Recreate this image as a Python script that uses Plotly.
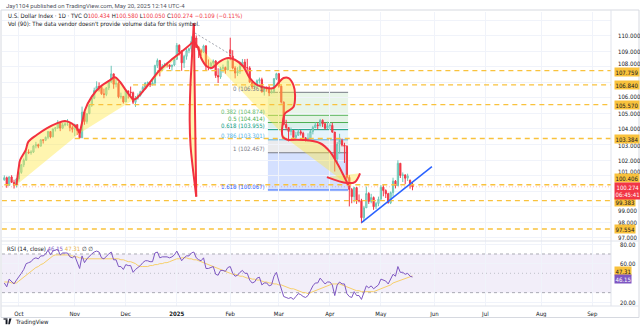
import pandas as pd
import plotly.graph_objects as go

# ---------------- daily bars, TVC:DXY ----------------
HOLIDAYS = ["2024-12-25", "2025-01-01", "2025-04-18"]
DATES = [d.strftime("%Y-%m-%d") for d in pd.bdate_range("2024-09-23", "2025-05-20")
         if d.strftime("%Y-%m-%d") not in HOLIDAYS]

OPEN = [
    100.72, 100.86, 100.37, 100.91, 100.56, 100.38,
    100.78, 101.20, 101.69, 101.99, 102.52, 102.47, 102.51, 102.91, 102.99, 102.89, 103.30, 103.27,
    103.46, 103.83, 103.49, 104.00, 104.07, 104.41, 104.05, 104.26, 104.32, 104.32, 104.08,
    103.98, 104.28, 103.89, 103.43, 105.08, 104.48, 104.99, 105.52, 105.98, 106.48, 106.74, 106.69,
    106.27, 106.22, 106.65, 107.03, 107.55, 106.88, 106.94, 106.07, 106.10,
    105.74, 106.45, 106.38, 106.34, 105.72, 105.99, 106.16, 106.41, 106.68, 106.96, 106.99, 106.85,
    106.96, 108.08, 108.41, 107.82, 108.04, 108.14, 108.13, 108.01, 108.12,
    108.49, 109.39, 108.95, 108.26, 108.68, 109.05, 109.17, 109.65, 109.86, 109.25, 109.05, 108.95,
    109.35, 108.05, 108.03, 108.24, 108.38, 107.44, 107.35, 107.89, 107.96, 107.80,
    109.10, 108.69, 107.92, 107.60, 107.70, 108.04, 108.31, 107.96, 107.93, 107.02, 106.71, 106.80,
    107.11, 107.18, 106.39, 106.62, 106.58, 106.33, 106.41, 107.24,
    107.56, 106.76, 105.73, 104.29, 104.09, 103.84, 103.90, 103.45, 103.59, 103.82, 103.72, 103.43,
    103.26, 103.40, 103.84, 104.09, 104.26, 104.22, 104.56, 104.33, 104.04,
    104.21, 104.23, 103.80, 102.07, 103.02, 103.26, 102.96, 102.89, 100.88, 100.10, 99.64, 100.22,
    99.38, 99.38, 98.28, 98.92, 99.84, 99.33, 99.58, 98.99, 99.20,
    99.47, 100.25, 100.03, 99.83, 99.24, 99.90, 100.64, 100.34, 101.79, 101.00, 101.04, 100.83,
    100.70, 100.434,
]
HIGH = [
    101.01, 100.93, 100.95, 101.02, 100.73, 100.84,
    101.31, 101.74, 102.10, 102.69, 102.69, 102.63, 102.95, 103.17, 103.05, 103.35, 103.33, 103.51,
    103.87, 103.87, 104.03, 104.11, 104.57, 104.45, 104.38, 104.52, 104.63, 104.46, 104.22,
    104.34, 104.28, 103.99, 105.44, 105.15, 105.01, 105.61, 106.12, 106.66, 107.07, 107.00, 106.77,
    106.60, 106.70, 107.10, 108.07, 107.55, 107.31, 107.03, 106.34, 106.12,
    106.57, 106.48, 106.73, 106.41, 106.12, 106.29, 106.47, 106.77, 107.01, 107.06, 107.02, 107.15,
    108.14, 108.54, 108.45, 108.18, 108.26, 108.27, 108.16, 108.13, 108.58,
    109.54, 109.45, 109.08, 108.78, 109.16, 109.24, 109.97, 110.18, 110.02, 109.35, 109.17, 109.43,
    109.40, 108.48, 108.33, 108.48, 108.43, 107.91, 108.00, 108.15, 108.02, 108.54,
    109.88, 109.07, 108.04, 107.98, 108.34, 108.51, 108.50, 108.52, 108.04, 107.11, 106.97, 107.19,
    107.31, 107.30, 106.67, 106.74, 106.80, 106.57, 107.28, 107.62,
    107.61, 106.80, 105.77, 104.59, 104.11, 104.09, 103.91, 103.82, 103.96, 103.94, 103.82, 103.48,
    103.72, 103.95, 104.20, 104.42, 104.41, 104.65, 104.62, 104.41, 104.47,
    104.37, 104.40, 103.81, 103.17, 103.69, 103.38, 103.11, 102.94, 101.02, 100.20, 100.27, 100.26,
    99.78, 99.50, 99.05, 100.29, 99.93, 99.82, 99.65, 99.30, 99.64,
    100.38, 100.38, 100.11, 99.89, 99.97, 100.86, 100.71, 101.98, 101.80, 101.20, 101.07, 101.12,
    100.73, 100.580,
]
LOW = [
    100.67, 100.21, 100.35, 100.53, 100.16, 100.23,
    100.61, 101.11, 101.54, 101.94, 102.38, 102.34, 102.45, 102.75, 102.76, 102.89, 103.06, 103.22,
    103.34, 103.40, 103.47, 103.84, 104.00, 103.86, 103.99, 104.17, 104.20, 103.85, 103.77,
    103.54, 103.61, 103.37, 103.43, 104.27, 104.34, 104.95, 105.42, 105.92, 106.42, 106.41, 106.20,
    105.98, 106.11, 106.50, 106.95, 106.59, 106.68, 105.98, 105.95, 105.64,
    105.74, 105.96, 106.16, 105.60, 105.42, 105.88, 106.08, 106.36, 106.56, 106.73, 106.70, 106.81,
    106.82, 107.93, 107.39, 107.73, 107.96, 107.96, 107.86, 107.76, 108.04,
    108.44, 108.74, 107.75, 107.93, 108.46, 108.88, 108.93, 109.53, 109.21, 108.57, 108.70, 108.89,
    107.78, 107.78, 107.83, 107.93, 107.29, 106.96, 107.23, 107.62, 107.56, 107.79,
    108.43, 107.84, 107.26, 107.41, 107.55, 108.02, 107.90, 107.69, 106.97, 106.56, 106.56, 106.64,
    106.92, 106.35, 106.15, 106.40, 106.12, 106.29, 106.30, 107.15,
    106.66, 105.64, 104.23, 103.92, 103.20, 103.59, 103.27, 103.28, 103.57, 103.58, 103.28, 103.19,
    103.19, 103.38, 103.65, 104.05, 103.99, 104.16, 104.13, 103.95, 103.99,
    103.95, 103.75, 101.26, 101.75, 102.41, 102.87, 101.81, 100.78, 99.01, 99.21, 99.27, 99.17,
    99.27, 97.92, 98.04, 98.91, 99.17, 99.21, 98.79, 98.84, 99.03,
    99.46, 99.66, 99.55, 99.20, 99.16, 99.64, 100.17, 100.34, 100.84, 100.58, 100.45, 100.65,
    100.15, 100.050,
]
CLOSE = [
    100.86, 100.37, 100.91, 100.56, 100.38, 100.78,
    101.20, 101.69, 101.99, 102.52, 102.47, 102.51, 102.91, 102.99, 102.89, 103.30, 103.27, 103.46,
    103.83, 103.49, 104.00, 104.07, 104.41, 104.05, 104.26, 104.32, 104.32, 104.08, 103.98,
    104.28, 103.89, 103.43, 105.08, 104.48, 104.99, 105.52, 105.98, 106.48, 106.74, 106.69, 106.27,
    106.22, 106.65, 107.03, 107.55, 106.88, 106.94, 106.07, 106.10, 105.74,
    106.45, 106.38, 106.34, 105.72, 105.99, 106.16, 106.41, 106.68, 106.96, 106.99, 106.85, 106.96,
    108.08, 108.41, 107.82, 108.04, 108.14, 108.13, 108.01, 108.12, 108.49,
    109.39, 108.95, 108.26, 108.68, 109.05, 109.17, 109.65, 109.86, 109.25, 109.05, 108.95, 109.35,
    108.05, 108.03, 108.24, 108.38, 107.44, 107.35, 107.89, 107.96, 107.80, 108.37,
    108.69, 107.92, 107.60, 107.70, 108.04, 108.31, 107.96, 107.93, 107.02, 106.71, 106.80, 107.11,
    107.18, 106.39, 106.62, 106.58, 106.33, 106.41, 107.24, 107.56,
    106.76, 105.73, 104.29, 104.09, 103.84, 103.90, 103.45, 103.59, 103.82, 103.72, 103.43, 103.26,
    103.40, 103.84, 104.09, 104.26, 104.22, 104.56, 104.33, 104.04, 104.21,
    104.23, 103.80, 102.07, 103.02, 103.26, 102.96, 102.89, 100.88, 100.10, 99.64, 100.22, 99.38,
    99.38, 98.28, 98.92, 99.84, 99.33, 99.58, 98.99, 99.20, 99.47,
    100.25, 100.03, 99.83, 99.24, 99.90, 100.64, 100.34, 101.79, 101.00, 101.04, 100.83, 100.98,
    100.383, 100.274,
]

# RSI (14, close) and its moving average
RSI = [
    40, 36, 44, 41, 39, 43,
    46, 50, 54, 60, 61, 62, 65, 66, 65, 68, 68, 70, 74, 69, 73, 74, 75, 69, 71, 71, 71, 67, 66,
    68, 62, 55, 68, 61, 65, 68, 70, 72, 73, 72, 66, 65, 68, 70, 72, 64, 64, 57, 57, 54,
    59, 58, 58, 51, 54, 56, 58, 61, 63, 63, 62, 62, 71, 72, 66, 67, 67, 67, 66, 67, 69,
    73, 68, 63, 66, 68, 68, 71, 72, 66, 64, 63, 66, 55, 55, 56, 57, 49, 48, 53, 53, 52, 56,
    57, 50, 47, 48, 51, 53, 50, 50, 43, 40, 41, 45, 46, 38, 40, 40, 37, 38, 47, 51,
    42, 33, 26, 25, 24, 25, 23, 26, 29, 28, 26, 25, 27, 32, 37, 40, 40, 45, 42, 39, 41,
    41, 38, 27, 38, 41, 39, 39, 29, 26, 25, 31, 27, 27, 23, 31, 37, 35, 37, 34, 36, 38,
    44, 43, 42, 39, 44, 49, 47, 57, 51, 51, 49, 50, 47, 46.15,
]
RSI_MA = [
    41, 41, 41, 40, 40, 40,
    42, 44, 46, 48, 50, 52, 54, 56, 57, 59, 60, 62, 64, 66, 68, 69, 69, 69, 69, 69, 69, 68, 68,
    67, 67, 66, 66, 65, 65, 65, 65, 65, 65, 65, 65, 65, 65, 65, 65, 65, 65, 65, 64, 64,
    63, 62, 62, 61, 60, 58, 57, 57, 57, 57, 58, 58, 59, 59, 60, 60, 61, 61, 62, 63, 64,
    65, 65, 66, 66, 66, 65, 65, 64, 64, 63, 62, 61, 60, 59, 58, 57, 56, 55, 54, 53, 52, 51,
    50, 49, 49, 48, 47, 47, 46, 45, 45, 44, 44, 43, 43, 42, 41, 41, 40, 40, 39, 39,
    38, 38, 37, 36, 35, 34, 34, 33, 32, 31, 30, 30, 29, 30, 31, 32, 33, 34, 35, 36, 37,
    38, 39, 39, 39, 39, 38, 37, 36, 35, 34, 33, 32, 32, 31, 31, 31, 31, 31, 31, 32, 33,
    34, 35, 36, 37, 38, 40, 41, 42, 43, 44, 45, 46, 46.5, 47.31,
]
assert len(DATES) == len(OPEN) == len(HIGH) == len(LOW) == len(CLOSE) == len(RSI) == len(RSI_MA)

# ---------------- drawings ----------------
LEVEL_PRICES = [107.759, 106.840, 105.570, 103.384, 100.406, 99.383, 97.554]
LEVEL_STARTS = ["2024-12-19", "2024-12-05", "2024-11-11", "2024-11-01",
                "2024-09-23", "2024-09-20", "2024-09-20"]
LEVEL_LABEL_SHIFT = [-1, 0, 0, 0, 7, -1.5, 0]

FIB_LEFT, FIB_RIGHT = "2025-02-24 12:00", "2025-04-10 12:00"
FIB_RATIOS = ["0", "0.382", "0.5", "0.618", "0.786", "1", "1.618"]
FIB_PRICES = [106.361, 104.874, 104.414, 103.955, 103.301, 102.467, 100.067]
FIB_COLORS = ["#787b86", "#66bb6a", "#4caf50", "#089981", "#4fb3e8", "#787b86", "#2962ff"]

TREND_BLUE = [("2025-04-21", 97.96), ("2025-05-30", 101.57)]
TREND_GRAY = [("2025-01-13 12:00", 110.18), ("2025-02-03 14:00", 108.75)]

ARC_OCT = [("2024-09-30", 100.39), ("2024-10-01", 101.57), ("2024-10-01 12:00", 102.00),
           ("2024-10-03 19:00", 102.64), ("2024-10-04 22:00", 103.18), ("2024-10-10 07:00", 103.61),
           ("2024-10-16 10:00", 104.04), ("2024-10-22 14:00", 104.36), ("2024-10-28", 104.51),
           ("2024-10-30 17:00", 104.36), ("2024-11-04", 104.04), ("2024-11-05", 103.72)]
ARC_NOV = [("2024-11-05", 103.72), ("2024-11-06 06:00", 104.58), ("2024-11-07 05:00", 105.22),
           ("2024-11-12", 106.08), ("2024-11-15 12:00", 106.72), ("2024-11-21 12:00", 107.15),
           ("2024-11-25 12:00", 107.33), ("2024-11-27 14:00", 107.04), ("2024-12-02 10:00", 106.40),
           ("2024-12-05", 105.87)]
ARC_DEC = [("2024-12-05", 105.87), ("2024-12-06 12:00", 105.98), ("2024-12-12 14:00", 106.72),
           ("2024-12-20", 107.80), ("2024-12-30 12:00", 108.55), ("2025-01-07 17:00", 109.20),
           ("2025-01-13", 109.66)]
SPIKE_CURVE = [("2025-01-13", 110.80), ("2025-01-10 12:00", 109.40), ("2025-01-10 02:00", 108.20),
               ("2025-01-09 14:00", 106.72), ("2025-01-09 07:00", 104.58), ("2025-01-09 16:00", 102.90),
               ("2025-01-10 12:00", 101.60), ("2025-01-13 10:00", 100.40), ("2025-01-14", 99.64)]
SPIKE_CHORD = [("2025-01-13", 110.80), ("2025-01-13 12:00", 105.0), ("2025-01-14", 99.64)]
ARC_TOP = [("2025-01-13", 109.66), ("2025-01-14 19:00", 109.22), ("2025-01-16", 108.57),
           ("2025-01-20 07:00", 108.04), ("2025-01-22 07:00", 107.93), ("2025-01-27 19:00", 108.36),
           ("2025-01-31 05:00", 108.57), ("2025-02-04 22:00", 108.46), ("2025-02-10 07:00", 108.04),
           ("2025-02-13 02:00", 107.28), ("2025-02-17 22:00", 106.85), ("2025-02-24", 106.64),
           ("2025-02-26 19:00", 106.64), ("2025-02-28 19:00", 106.96), ("2025-03-04 22:00", 107.28),
           ("2025-03-07", 107.28), ("2025-03-11", 106.83), ("2025-03-11 16:00", 106.19),
           ("2025-03-11", 105.41), ("2025-03-05 14:00", 105.01), ("2025-03-04 14:00", 104.36),
           ("2025-03-04 14:00", 103.50), ("2025-03-06 22:00", 103.29)]
ARC_MAR = [("2025-03-06 22:00", 103.29), ("2025-03-17", 103.29), ("2025-03-26", 103.08),
           ("2025-04-01", 102.54), ("2025-04-04 10:00", 101.68), ("2025-04-09 05:00", 100.82),
           ("2025-04-10 14:00", 100.39)]
ARC_APR = [("2025-03-28 19:00", 100.90), ("2025-04-10", 100.52), ("2025-04-15 07:00", 100.58),
           ("2025-04-17 10:00", 101.14)]

# ---------------- axes ----------------
MONTH_TICKS = ["2024-10-01", "2024-11-01", "2024-12-02", "2025-01-02", "2025-02-03", "2025-03-03",
               "2025-04-01", "2025-05-01", "2025-06-02", "2025-07-01", "2025-08-01", "2025-09-01"]
MONTH_LABELS = ["Oct", "Nov", "Dec", "<b>2025</b>", "Feb", "Mar", "Apr", "May", "Jun", "Jul", "Aug", "Sep"]
PRICE_GRID = list(range(97, 112))
PRICE_TICKS = [97, 98, 99, 101, 102, 103, 104, 105, 106, 108, 109, 110]
PRICE_TICK_SHIFT = {108: 3, 106: 1, 103: -1.5, 101: 4.5, 99: -3.5}
RSI_TICKS = [80, 60, 20]

X_START, X_END = "2024-09-20 01:10", "2025-09-10 17:00"
PRICE_RANGE = [96.781, 111.536]
RSI_RANGE = [16.19, 83.41]

W, H = 640, 328
ML, MR, MT, MB = 2, 29, 12, 22
PW, PH = W - ML - MR, H - MT - MB


def px(x):
    return (x - ML) / PW


def py(y):
    return (H - MB - y) / PH


Y_SPLIT = py(241)

UP_LINE, UP_FILL = "#6cc6b6", "#bfe7df"
DOWN = "#f23645"
RED_PEN = "#f2313f"
YELLOW_FILL = "rgba(255, 232, 64, 0.42)"
LEVEL_YELLOW = "#f9c23c"
GRID = "#f0f3fa"
TEXT = "#131722"
FONT = "Roboto, 'Noto Sans', sans-serif"
NARROW = "'Liberation Sans Narrow', 'Arial Narrow', 'DejaVu Sans Condensed', Roboto, sans-serif"
SMALL = 6
BREAKS = [dict(bounds=["sat", "mon"]), dict(values=HOLIDAYS)]

fig = go.Figure()

# Fibonacci retracement zones
for i in range(1, len(FIB_PRICES)):
    c = FIB_COLORS[i]
    r, g, b = int(c[1:3], 16), int(c[3:5], 16), int(c[5:7], 16)
    fig.add_shape(type="rect", xref="x", yref="y", x0=FIB_LEFT, x1=FIB_RIGHT,
                  y0=FIB_PRICES[i - 1], y1=FIB_PRICES[i], line_width=0, layer="below",
                  fillcolor=f"rgba({r},{g},{b},{0.2 if i == 6 else 0.15})")
for p, c in zip(FIB_PRICES, FIB_COLORS):
    fig.add_shape(type="line", xref="x", yref="y", x0=FIB_LEFT, x1=FIB_RIGHT, y0=p, y1=p,
                  line=dict(color=c, width=1), layer="below")
for lab, p, c in zip(FIB_RATIOS, FIB_PRICES, FIB_COLORS):
    fig.add_annotation(x=FIB_LEFT, y=p, xref="x", yref="y", text=f"{lab} ({p:.3f})",
                       showarrow=False, xanchor="right", yanchor="bottom", xshift=-1, yshift=-1.5,
                       font=dict(size=SMALL, color=c, family=NARROW))

# RSI background band and guides
fig.add_shape(type="rect", xref="paper", yref="y2", x0=0, x1=1, y0=30, y1=70,
              fillcolor="rgba(126,87,194,0.10)", line_width=0, layer="below")
for lv, dash, col in [(70, "3px,3px", "#9598a1"), (30, "3px,3px", "#9598a1"), (50, "1px,3px", "#b2b5be")]:
    fig.add_shape(type="line", xref="paper", yref="y2", x0=0, x1=1, y0=lv, y1=lv,
                  line=dict(color=col, width=0.8, dash=dash), layer="below")

# current price line
fig.add_shape(type="line", xref="paper", yref="y", x0=0, x1=1, y0=CLOSE[-1], y1=CLOSE[-1],
              line=dict(color="rgba(242,54,69,0.30)", width=1, dash="1px,2px"), layer="below")

# yellow arcs
for arc in [ARC_OCT, ARC_NOV, ARC_DEC, SPIKE_CURVE, ARC_TOP, ARC_MAR, ARC_APR]:
    fig.add_trace(go.Scatter(x=[a[0] for a in arc], y=[a[1] for a in arc], mode="lines",
                             fill="toself", fillcolor=YELLOW_FILL, line=dict(width=0, shape="spline"),
                             hoverinfo="skip", xaxis="x", yaxis="y"))

# horizontal levels
for p, s in zip(LEVEL_PRICES, LEVEL_STARTS):
    fig.add_trace(go.Scatter(x=[s, X_END], y=[p, p], mode="lines", hoverinfo="skip",
                             line=dict(color=LEVEL_YELLOW, width=1.4, dash="5px,4px"),
                             xaxis="x", yaxis="y"))

# candles
fig.add_trace(go.Candlestick(
    x=DATES, open=OPEN, high=HIGH, low=LOW, close=CLOSE, xaxis="x", yaxis="y",
    increasing=dict(line=dict(color=UP_LINE, width=1), fillcolor=UP_FILL),
    decreasing=dict(line=dict(color=DOWN, width=1), fillcolor=DOWN),
    whiskerwidth=0, hoverinfo="skip"))

# red pen strokes over the candles
for arc in [ARC_OCT, ARC_NOV, ARC_DEC, SPIKE_CURVE, SPIKE_CHORD, ARC_TOP, ARC_MAR, ARC_APR]:
    fig.add_trace(go.Scatter(x=[a[0] for a in arc], y=[a[1] for a in arc], mode="lines",
                             line=dict(color=RED_PEN, width=2, shape="spline"),
                             hoverinfo="skip", xaxis="x", yaxis="y"))

# trend lines
fig.add_trace(go.Scatter(x=[a[0] for a in TREND_GRAY], y=[a[1] for a in TREND_GRAY], mode="lines",
                         line=dict(color="#a3a6af", width=1, dash="2px,2px"), hoverinfo="skip",
                         xaxis="x", yaxis="y"))
fig.add_trace(go.Scatter(x=[a[0] for a in TREND_BLUE], y=[a[1] for a in TREND_BLUE], mode="lines",
                         line=dict(color="#2962ff", width=1.5), hoverinfo="skip",
                         xaxis="x", yaxis="y"))

# RSI pane
fig.add_trace(go.Scatter(x=DATES, y=RSI_MA, mode="lines", line=dict(color="#f7cf6b", width=1),
                         hoverinfo="skip", xaxis="x2", yaxis="y2"))
fig.add_trace(go.Scatter(x=DATES, y=RSI, mode="lines", line=dict(color="#7e57c2", width=1),
                         hoverinfo="skip", xaxis="x2", yaxis="y2"))

# ---------------- price scale texts ----------------
for v in PRICE_TICKS:
    fig.add_annotation(xref="paper", x=1, xanchor="left", xshift=5, yref="y", y=v,
                       yanchor="middle", yshift=PRICE_TICK_SHIFT.get(v, 0), text=f"{v:.3f}",
                       showarrow=False, font=dict(size=SMALL, color=TEXT, family=NARROW))
for v in RSI_TICKS:
    fig.add_annotation(xref="paper", x=1, xanchor="left", xshift=7, yref="y2", y=v,
                       yanchor="middle", text=f"{v:.2f}",
                       showarrow=False, font=dict(size=SMALL, color=TEXT, family=NARROW))


def scale_label(y, text, bg, fg, yref="y", yshift=0, yanchor="middle"):
    fig.add_annotation(xref="paper", x=1, xanchor="left", xshift=3, yref=yref, y=y,
                       yanchor=yanchor, yshift=yshift, text=text, showarrow=False,
                       bgcolor=bg, borderpad=0.5, font=dict(size=SMALL, color=fg, family=NARROW))


for p, sh in zip(LEVEL_PRICES, LEVEL_LABEL_SHIFT):
    scale_label(p, f"{p:.3f}", LEVEL_YELLOW, TEXT, yshift=sh)
scale_label(CLOSE[-1], f"{CLOSE[-1]:.3f}<br>06:45:41", DOWN, "white", yanchor="top", yshift=5)
scale_label(RSI_MA[-1], f"{RSI_MA[-1]:.2f}", LEVEL_YELLOW, TEXT, yref="y2", yshift=5)
scale_label(RSI[-1], f"{RSI[-1]:.2f}", "#7e57c2", "white", yref="y2", yshift=-2)

# ---------------- header / legends ----------------
chg = CLOSE[-1] - CLOSE[-2]
pct = chg / CLOSE[-2] * 100
red = lambda s: f"<span style='color:{DOWN}'>{s}</span>"
ohlc = (f"U.S. Dollar Index · 1D · TVC O{red(f'{OPEN[-1]:.3f}')} H{red(f'{HIGH[-1]:.3f}')} "
        f"L{red(f'{LOW[-1]:.3f}')} C{red(f'{CLOSE[-1]:.3f}')} "
        f"{red(f'−{abs(chg):.3f} (−{abs(pct):.2f}%)')}")
texts = [
    (4, 5, "Jay1104 published on TradingView.com, May 20, 2025 12:14 UTC-4", "#50535e", FONT),
    (6, 15.5, ohlc, TEXT, NARROW),
    (6, 24, "Vol (90): The data vendor doesn't provide volume data for this symbol.", TEXT, NARROW),
    (5, 248.5, f"RSI (14, close) <span style='color:#7e57c2'>{RSI[-1]:.2f}</span> "
               f"<span style='color:#e8b54a'>{RSI_MA[-1]:.2f}</span> ∅ ∅", TEXT, NARROW),
    (13, 321.5, "TradingView", TEXT, NARROW),
]
for x, y, t, c, f in texts:
    fig.add_annotation(xref="paper", yref="paper", x=px(x), y=py(y), xanchor="left",
                       yanchor="middle", text=t, showarrow=False,
                       font=dict(size=SMALL, color=c, family=f))

# TradingView mark
fig.add_shape(type="rect", xref="paper", yref="paper", x0=px(3.5), x1=px(7.5), y0=py(319.6),
              y1=py(318.4), fillcolor=TEXT, line_width=0)
fig.add_shape(type="rect", xref="paper", yref="paper", x0=px(5.6), x1=px(7.5), y0=py(324.2),
              y1=py(319.6), fillcolor=TEXT, line_width=0)
fig.add_shape(type="path", xref="paper", yref="paper", fillcolor=TEXT, line_width=0,
              path=f"M{px(9.2)},{py(318.4)} L{px(11.5)},{py(318.4)} L{px(9.8)},{py(324.2)} "
                   f"L{px(8.2)},{py(324.2)} Z")

# frame and pane borders
fig.add_shape(type="rect", xref="paper", yref="paper", x0=px(1), x1=px(639), y0=py(317.5),
              y1=py(10), line=dict(color="#d6d9e0", width=1))
for y in (241, 306):
    fig.add_shape(type="line", xref="paper", yref="paper", x0=px(1), x1=px(639), y0=py(y), y1=py(y),
                  line=dict(color="#e0e3eb", width=1))
fig.add_shape(type="line", xref="paper", yref="paper", x0=1, x1=1, y0=py(306), y1=py(10),
              line=dict(color="#e0e3eb", width=1))

axis_common = dict(type="date", rangebreaks=BREAKS, range=[X_START, X_END], tickvals=MONTH_TICKS,
                   showgrid=True, gridcolor=GRID, gridwidth=1, zeroline=False, showline=False,
                   fixedrange=True)
fig.update_layout(
    width=W, height=H, margin=dict(l=ML, r=MR, t=MT, b=MB),
    paper_bgcolor="white", plot_bgcolor="white", showlegend=False,
    font=dict(family=FONT, size=SMALL, color=TEXT),
    xaxis=dict(domain=[0, 1], anchor="y", showticklabels=False,
               rangeslider=dict(visible=False), **axis_common),
    xaxis2=dict(domain=[0, 1], anchor="y2", matches="x", ticktext=MONTH_LABELS,
                tickfont=dict(size=SMALL, color=TEXT, family=NARROW), ticks="outside", ticklen=2,
                tickcolor="rgba(0,0,0,0)", **axis_common),
    yaxis=dict(domain=[Y_SPLIT, 1], anchor="x", side="right", range=PRICE_RANGE,
               tickvals=PRICE_GRID, showticklabels=False, ticks="",
               showgrid=True, gridcolor=GRID, zeroline=False, fixedrange=True),
    yaxis2=dict(domain=[0, Y_SPLIT], anchor="x2", side="right", range=RSI_RANGE,
                tickvals=RSI_TICKS, showticklabels=False, ticks="",
                showgrid=True, gridcolor=GRID, zeroline=False, fixedrange=True),
)

fig.write_html("out.html")
